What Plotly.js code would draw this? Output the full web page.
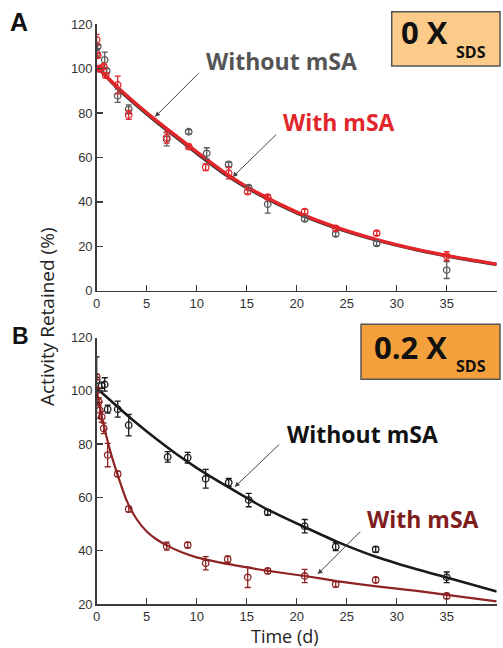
<!DOCTYPE html>
<html>
<head>
<meta charset="utf-8">
<script src="https://cdn.plot.ly/plotly-3.0.1.min.js"></script>
<style>html,body{margin:0;padding:0;background:#fff;}#chart{width:503px;height:648px;}</style>
</head>
<body>
<div id="chart"></div>
<script>
// ---- Panel A (0 X SDS) data ----
const topTimeWithout = [0, 0.1, 0.3, 0.8, 1.0, 2.1, 3.2, 7, 9.2, 11, 13.2, 15.2, 17.1, 20.8, 23.9, 28, 35];
const topWithout     = [107, 110, 100, 104, 99, 87.8, 81.7, 68.2, 71.6, 61.9, 56.9, 46.4, 38.9, 32.3, 25.5, 21.3, 9.3];
const topWithoutErr  = [1.5, 1, 1, 3.5, 1, 3, 2, 3, 1, 2.5, 1, 1, 4, 1, 1, 1, 3.8];

const topTimeWith = [0, 0.1, 0.1, 0.3, 0.7, 0.9, 2.1, 3.2, 7, 9.2, 10.9, 13.2, 15.1, 17.1, 20.8, 23.9, 28, 35];
const topWith     = [113, 106, 100, 100, 101, 97, 92.7, 79.2, 69, 64.9, 55.6, 52.9, 44.6, 42.1, 35.6, 28.1, 25.9, 15.6];
const topWithErr  = [2.5, 1, 1, 1, 1, 1, 4, 2, 2.5, 1, 1.5, 2.5, 1, 1, 1, 1, 1, 2];

const topFitTime    = [0, 2, 4, 6, 8, 10, 13, 16, 20, 24, 28, 32, 36, 40];
const topFitWith    = [101, 92, 84, 76.5, 69.5, 62.5, 52.5, 44.3, 35.4, 28.5, 23, 18.6, 15, 12];
const topFitWithout = [101, 91.5, 83.4, 75.9, 68.9, 61.9, 51.9, 43.8, 35, 28.1, 22.7, 18.4, 14.8, 11.8];

// ---- Panel B (0.2 X SDS) data ----
const botTimeWithout = [0, 0.5, 0.8, 1.1, 2.1, 3.2, 7.1, 9.1, 10.9, 13.2, 15.2, 17.1, 20.8, 23.9, 27.9, 35];
const botWithout     = [104, 102, 102.4, 93.1, 93.1, 87.1, 75.2, 74.9, 67, 65.6, 59, 54.4, 49.2, 41.5, 40.5, 30];
const botWithoutErr  = [8.7, 1, 2.5, 1.5, 3, 4, 2, 2, 3.5, 1.5, 2.5, 1, 2.5, 1.5, 1, 2];

const botTimeWith = [0, 0, 0.2, 0.3, 0.5, 0.7, 1.1, 2.1, 3.2, 7, 9.1, 10.9, 13.1, 15.1, 17.1, 20.8, 23.9, 27.9, 35];
const botWith     = [105.2, 100.2, 95.9, 92.7, 90.2, 85.9, 75.9, 68.8, 55.6, 41.7, 42.1, 35.3, 36.8, 30, 32.4, 30.5, 27.4, 29, 23];
const botWithErr  = [1, 1, 1.5, 3, 2, 2, 4.4, 1, 1, 1.5, 1, 2.5, 1.2, 3.8, 1, 2.5, 1, 1, 1];

const botFitWithoutTime = [0, 2, 4, 6, 8, 10, 13, 17, 21, 24, 28, 32, 35, 40];
const botFitWithout     = [101, 94.3, 87.8, 81.8, 76.2, 71.1, 64.2, 55.6, 48.5, 43.4, 37.6, 33, 29.9, 24.7];
const botFitWithTime = [0, 0.5, 1, 1.5, 2, 3, 4, 5, 6, 7, 8.5, 10, 12, 14, 17, 21, 24, 28, 32, 35, 40];
const botFitWith     = [100, 90.5, 82.5, 75.5, 69.5, 58.8, 51.8, 47.2, 44.2, 42, 39.4, 37.5, 35.8, 34.4, 32.5, 30.4, 28.6, 26.6, 24.9, 23.4, 21];

const xTicks = [0, 5, 10, 15, 20, 25, 30, 35, 40];

const cGray = '#5a5a5a', cRed = '#e3262b', cBlack = '#1a1a1a', cDark = '#8e2323';

function pts(x, y, err, color, xa, ya) {
  return {x: x, y: y, xaxis: xa, yaxis: ya, type: 'scatter', mode: 'markers',
    marker: {symbol: 'circle-open', size: 6.5, color: color, line: {width: 1.3, color: color}},
    error_y: {type: 'data', array: err, visible: true, color: color, thickness: 1.3, width: 3},
    showlegend: false, hoverinfo: 'skip'};
}
function fit(x, y, color, w, xa, ya) {
  return {x: x, y: y, xaxis: xa, yaxis: ya, type: 'scatter', mode: 'lines',
    line: {color: color, width: w, shape: 'spline', smoothing: 0.6}, showlegend: false, hoverinfo: 'skip'};
}

const data = [
  fit(topFitTime, topFitWithout, '#333333', 3.2, 'x', 'y'),
  fit(topFitTime, topFitWith, cRed, 3.4, 'x', 'y'),
  pts(topTimeWithout, topWithout, topWithoutErr, cGray, 'x', 'y'),
  pts(topTimeWith, topWith, topWithErr, cRed, 'x', 'y'),
  fit(botFitWithoutTime, botFitWithout, cBlack, 2.6, 'x2', 'y2'),
  fit(botFitWithTime, botFitWith, cDark, 2.2, 'x2', 'y2'),
  pts(botTimeWithout, botWithout, botWithoutErr, cBlack, 'x2', 'y2'),
  pts(botTimeWith, botWith, botWithErr, cDark, 'x2', 'y2')
];

const axisCommon = {
  showline: true, linecolor: '#3a3a3a', linewidth: 1.5, mirror: false,
  ticks: 'inside', ticklen: 6, tickwidth: 1.5, tickcolor: '#3a3a3a',
  showgrid: false, zeroline: false,
  tickfont: {family: 'Liberation Sans, Arial, sans-serif', size: 13, color: '#333'}
};
const xDom = [96.7 / 503, 496.7 / 503];

function lbl(text, px, py, size, color, family, extra) {
  return Object.assign({text: text, xref: 'paper', yref: 'paper', x: px / 503, y: 1 - py / 648,
    xanchor: 'center', yanchor: 'middle', showarrow: false,
    font: {family: family || 'Open Sans, sans-serif', size: size, color: color}}, extra || {});
}
function arrow(xa, ya, x, y, ax, ay) {
  return {text: '', xref: xa, yref: ya, x: x, y: y, ax: ax, ay: ay, showarrow: true,
    arrowhead: 2, arrowsize: 1, arrowwidth: 1, arrowcolor: '#444', standoff: 0};
}

const layout = {
  width: 503, height: 648,
  margin: {l: 0, r: 0, t: 0, b: 0},
  paper_bgcolor: '#fff', plot_bgcolor: '#fff',
  xaxis: Object.assign({}, axisCommon, {domain: xDom, range: [0, 40], tickvals: xTicks, anchor: 'y'}),
  yaxis: Object.assign({}, axisCommon, {domain: [1 - 290.7 / 648, 1 - 24.3 / 648], range: [0, 120], tickvals: [0, 20, 40, 60, 80, 100, 120], anchor: 'x'}),
  xaxis2: Object.assign({}, axisCommon, {domain: xDom, range: [0, 40], tickvals: xTicks, anchor: 'y2'}),
  yaxis2: Object.assign({}, axisCommon, {domain: [1 - 604 / 648, 1 - 337.5 / 648], range: [20, 120], tickvals: [20, 40, 60, 80, 100, 120], anchor: 'x2'}),
  shapes: [
    {type: 'rect', xref: 'paper', yref: 'paper', x0: 391.7 / 503, x1: 500 / 503, y0: 1 - 66 / 648, y1: 1 - 11.7 / 648,
      fillcolor: '#fccb8a', line: {color: '#555', width: 1.5}},
    {type: 'rect', xref: 'paper', yref: 'paper', x0: 361 / 503, x1: 500 / 503, y0: 1 - 379.3 / 648, y1: 1 - 324.3 / 648,
      fillcolor: '#f3a03d', line: {color: '#555', width: 1.5}}
  ],
  annotations: [
    lbl('<b>A</b>', 18.5, 22.5, 25, '#111', 'Liberation Sans, Arial, sans-serif'),
    lbl('<b>B</b>', 20.5, 336, 23, '#111', 'Liberation Sans, Arial, sans-serif'),
    lbl('<b>0 X</b>', 424, 32, 31, '#111'),
    lbl('<b>SDS</b>', 470.5, 52.5, 16, '#111'),
    lbl('<b>0.2 X</b>', 410, 347, 31, '#111'),
    lbl('<b>SDS</b>', 471, 366, 16, '#111'),
    lbl('<b>Without mSA</b>', 281, 61, 23, '#555'),
    lbl('<b>With mSA</b>', 339, 122, 23, '#e3262b'),
    lbl('<b>Without mSA</b>', 362, 434, 23, '#111'),
    lbl('<b>With mSA</b>', 423, 519, 23, '#7f1d1d'),
    arrow('x', 'y', 5.83, 78.3, 45, -45),
    arrow('x', 'y', 13.6, 51.2, 45, -44),
    arrow('x2', 'y2', 13.8, 63.9, 46, -44),
    arrow('x2', 'y2', 22.1, 31.2, 44, -44),
    lbl('Activity Retained (%)', 47, 317, 19, '#222', null, {textangle: -90}),
    lbl('Time (d)', 285, 636, 18, '#222')
  ]
};

Plotly.newPlot('chart', data, layout, {displayModeBar: false, staticPlot: true});
</script>
</body>
</html>
